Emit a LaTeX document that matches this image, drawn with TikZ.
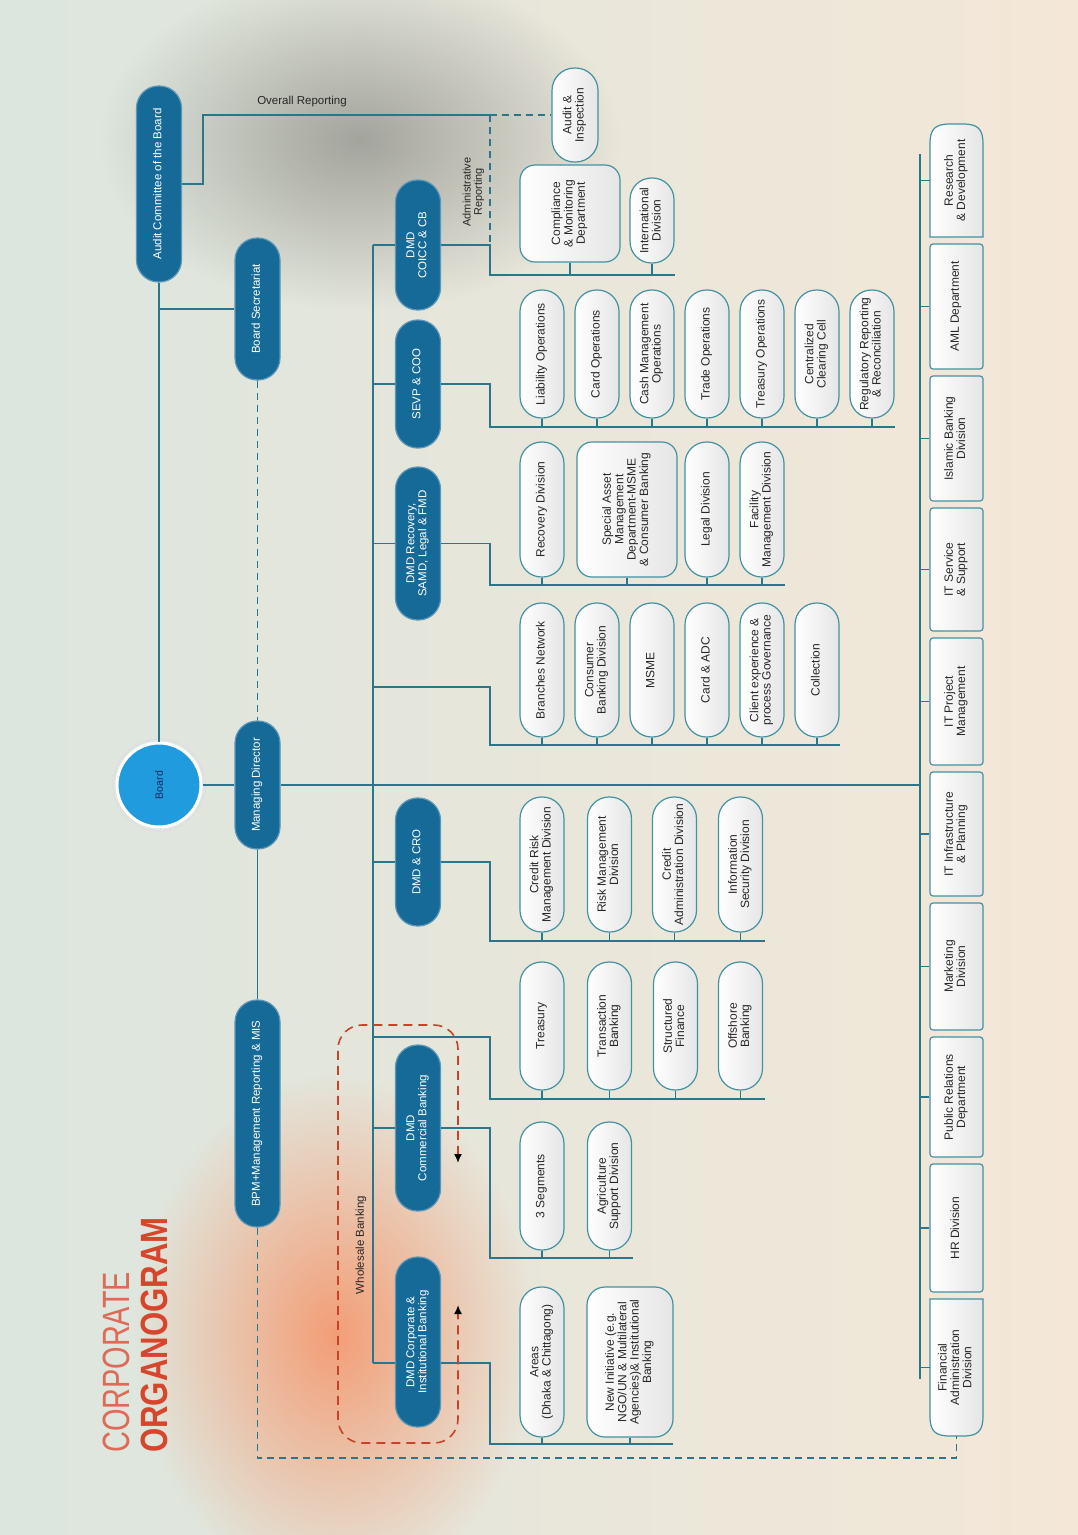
\documentclass[tikz,border=0pt]{standalone}
\usepackage{fontspec}
\setmainfont{Liberation Sans}
\usepackage{graphicx}
\usetikzlibrary{calc,arrows.meta,fadings}
\definecolor{dkblue}{RGB}{22,106,152}
\definecolor{lnc}{RGB}{42,118,138}
\definecolor{bxd}{RGB}{66,146,162}
\definecolor{bgL}{RGB}{220,230,222}
\definecolor{bgR}{RGB}{244,231,215}
\definecolor{ttl}{RGB}{214,70,45}
\definecolor{redd}{RGB}{200,65,40}
\definecolor{boardc}{RGB}{32,156,222}
\definecolor{navy}{RGB}{20,40,90}
\definecolor{txt}{RGB}{40,40,40}
\definecolor{blobg}{RGB}{110,110,105}
\definecolor{blobo}{RGB}{246,145,100}
\tikzfading[name=blobfade, inner color=transparent!0, outer color=transparent!100]
\newcommand{\rtx}[1]{\rotatebox{90}{\begin{tabular}{@{}c@{}}#1\end{tabular}}}
\renewcommand{\arraystretch}{0.95}
\tikzset{
  conn/.style={draw=lnc, line width=1.3pt},
  dconn/.style={conn, dash pattern=on 7pt off 5pt},
  dpill/.style={fill=dkblue, draw=dkblue!70!white, line width=1.2pt, text=white, inner sep=0pt,
     minimum width=45, rounded corners=22pt, font=\fontsize{11.5}{12.5}\selectfont},
  lbase/.style={draw=bxd, line width=1.2pt, left color=white, right color=black!10, inner sep=0pt,
     text=txt, font=\fontsize{12}{13}\selectfont},
  lpill/.style={lbase, minimum width=44, rounded corners=21.5pt},
  lrr/.style={lbase, rounded corners=15pt},
  sbox/.style={lbase, minimum width=53, rounded corners=3pt},
  lbl/.style={inner sep=0pt, text=txt, font=\fontsize{11.5}{13}\selectfont},
}
\begin{document}
\begin{tikzpicture}[x=1pt,y=-1pt]
\useasboundingbox (0,0) rectangle (1078,1535);
\shade[left color=bgL, right color=bgR] (0,0) rectangle (1078,1535);
\fill[blobg, opacity=0.55, path fading=blobfade] (360,140) ellipse (260 and 170);
\fill[blobo, opacity=0.85, path fading=blobfade] (335,1335) ellipse (200 and 260);

% ---- title
\node[inner sep=0pt, anchor=south east, text=ttl!80, font=\fontsize{38}{40}\selectfont] (tcorp) at (130,1453) {\rotatebox{90}{\scalebox{0.76}[1]{CORPORATE}}};
\node[inner sep=0pt, anchor=south east, text=ttl, font=\fontsize{38}{40}\selectfont\bfseries] (torg) at (168,1453) {\rotatebox{90}{\scalebox{0.82}[1]{ORGANOGRAM}}};

% ---- left column
\node[dpill, minimum height=196] (aud) at (159,184) {\rtx{Audit Committee of the Board}};
\node[dpill, minimum height=142] (sec) at (257.5,309) {\rtx{Board Secretariat}};
\node[dpill, minimum height=128] (md) at (257.5,785) {\rtx{Managing Director}};
\node[dpill, minimum height=227] (bpm) at (257.5,1113.5) {\rtx{BPM+Management Reporting \& MIS}};
\draw[black!12, line width=2pt] (159,785) circle (46);
\node[circle, fill=boardc, draw=white, line width=3pt, minimum size=84, inner sep=0pt, text=navy,
      font=\fontsize{10.5}{12}\selectfont] (board) at (159,785) {\rotatebox{90}{Board}};

% ---- DMD column
\node[dpill, minimum height=130] (coicc) at (418,245) {\rtx{DMD\\COICC \& CB}};
\node[dpill, minimum height=128] (sevp) at (418,384) {\rtx{SEVP \& COO}};
\node[dpill, minimum height=153] (rec) at (418,543.5) {\rtx{DMD Recovery,\\SAMD, Legal \& FMD}};
\node[dpill, minimum height=128] (cro) at (418,862) {\rtx{DMD \& CRO}};
\node[dpill, minimum height=166] (com) at (418,1128) {\rtx{DMD\\Commercial Banking}};
\node[dpill, minimum height=170] (cor) at (418,1342) {\rtx{DMD Corporate \&\\Institutional Banking}};

% ---- group 1
\node[lrr, minimum width=100, minimum height=97] (comp) at (570,213.5) {\rtx{Compliance\\\& Monitoring\\Department}};
\node[lpill, minimum height=85] (intl) at (652,220.5) {\rtx{International\\Division}};
\node[lpill, minimum width=46, rounded corners=22.5pt, minimum height=94] (audi) at (575,115) {\rtx{Audit \&\\Inspection}};

% ---- group 2
\node[lpill, minimum height=128] (lia) at (542,354) {\rtx{Liability Operations}};
\node[lpill, minimum height=128] (cardop) at (597,354) {\rtx{Card Operations}};
\node[lpill, minimum height=128] (cash) at (652,354) {\rtx{Cash Management\\Operations}};
\node[lpill, minimum height=128] (trade) at (707,354) {\rtx{Trade Operations}};
\node[lpill, minimum height=128] (treop) at (762,354) {\rtx{Treasury Operations}};
\node[lpill, minimum height=128] (ccc) at (817,354) {\rtx{Centralized\\Clearing Cell}};
\node[lpill, minimum height=128] (reg) at (872,354) {\rtx{Regulatory Reporting\\\& Reconciliation}};

% ---- group 3
\node[lpill, minimum height=135] (recd) at (542,509.5) {\rtx{Recovery Division}};
\node[lrr, minimum width=100, minimum height=135] (sam) at (627,509.5) {\rtx{Special Asset\\Management\\Department-MSME\\\& Consumer Banking}};
\node[lpill, minimum height=135] (legal) at (707,509.5) {\rtx{Legal Division}};
\node[lpill, minimum height=135] (fac) at (762,509.5) {\rtx{Facility\\Management Division}};

% ---- group 4
\node[lpill, minimum height=134] (bn) at (542,670) {\rtx{Branches Network}};
\node[lpill, minimum height=134] (cbd) at (597,670) {\rtx{Consumer\\Banking Division}};
\node[lpill, minimum height=134] (msme) at (652,670) {\rtx{MSME}};
\node[lpill, minimum height=134] (cadc) at (707,670) {\rtx{Card \& ADC}};
\node[lpill, minimum height=134] (cx) at (762,670) {\rtx{Client experience \&\\process Governance}};
\node[lpill, minimum height=134] (coll) at (817,670) {\rtx{Collection}};

% ---- group 5
\node[lpill, minimum height=135] (crm) at (542,864.5) {\rtx{Credit Risk\\Management Division}};
\node[lpill, minimum height=135] (rmd) at (609.5,864.5) {\rtx{Risk Management\\Division}};
\node[lpill, minimum height=135] (cad) at (674.5,864.5) {\rtx{Credit\\Administration Division}};
\node[lpill, minimum height=135] (isd) at (740.5,864.5) {\rtx{Information\\Security Division}};

% ---- group 6
\node[lpill, minimum height=128] (trs) at (542,1026) {\rtx{Treasury}};
\node[lpill, minimum height=128] (txb) at (609.5,1026) {\rtx{Transaction\\Banking}};
\node[lpill, minimum height=128] (sf) at (675.5,1026) {\rtx{Structured\\Finance}};
\node[lpill, minimum height=128] (ofb) at (740.5,1026) {\rtx{Offshore\\Banking}};

% ---- group 7
\node[lpill, minimum height=128] (seg) at (542,1186) {\rtx{3 Segments}};
\node[lpill, minimum height=128] (agr) at (609.5,1186) {\rtx{Agriculture\\Support Division}};

% ---- group 8
\node[lpill, minimum height=150] (areas) at (542,1362) {\rtx{Areas\\(Dhaka \& Chittagong)}};
\node[lrr, minimum width=86, rounded corners=18pt, minimum height=150] (newi) at (630,1362) {\rtx{New Initiative (e.g.\\NGO/UN \& Multilateral\\Agencies)\& Institutional\\Banking}};

% ---- support column
\node[inner sep=0pt, outer sep=0pt, minimum width=53, minimum height=113] (rd) at (956.5,180.5) {};
\shade[draw=bxd, line width=1.2pt, left color=white, right color=black!10]
  (rd.south west) -- ($(rd.north west)+(0,20)$) .. controls ($(rd.north west)+(0,5)$) and ($(rd.north west)+(5,0)$) .. ($(rd.north west)+(20,0)$)
  -- ($(rd.north east)+(-20,0)$) .. controls ($(rd.north east)+(-5,0)$) and ($(rd.north east)+(0,5)$) .. ($(rd.north east)+(0,20)$)
  -- (rd.south east) -- cycle;
\node[lbl, font=\fontsize{12}{13}\selectfont] (rdt) at (rd.center) {\rtx{Research\\\& Development}};
\node[sbox, minimum height=125] (aml) at (956.5,306.5) {\rtx{AML Department}};
\node[sbox, minimum height=125] (isl) at (956.5,438.5) {\rtx{Islamic Banking\\Division}};
\node[sbox, minimum height=123] (its) at (956.5,569.5) {\rtx{IT Service\\\& Support}};
\node[sbox, minimum height=127] (itpm) at (956.5,701.5) {\rtx{IT Project\\Management}};
\node[sbox, minimum height=124] (iti) at (956.5,834) {\rtx{IT Infrastructure\\\& Planning}};
\node[sbox, minimum height=127] (mkt) at (956.5,966.5) {\rtx{Marketing\\Division}};
\node[sbox, minimum height=120] (pr) at (956.5,1097) {\rtx{Public Relations\\Department}};
\node[sbox, minimum height=128] (hr) at (956.5,1228) {\rtx{HR Division}};
\node[inner sep=0pt, outer sep=0pt, minimum width=53, minimum height=137] (fad) at (956.5,1367.5) {};
\shade[draw=bxd, line width=1.2pt, left color=white, right color=black!10]
  (fad.north west) -- (fad.north east) -- ($(fad.south east)+(0,-20)$) .. controls ($(fad.south east)+(0,-5)$) and ($(fad.south east)+(-5,0)$) .. ($(fad.south east)+(-20,0)$)
  -- ($(fad.south west)+(20,0)$) .. controls ($(fad.south west)+(5,0)$) and ($(fad.south west)+(0,-5)$) .. ($(fad.south west)+(0,-20)$) -- cycle;
\node[lbl, font=\fontsize{12}{13}\selectfont] (fadt) at (fad.center) {\rtx{Financial\\Administration\\Division}};

% ---- coordinates
\coordinate (vt) at (373,245);
\coordinate (vb) at (373,1363);
\coordinate (sv) at (920,154);
\coordinate (svb) at (920,1379);
\coordinate (orA) at (203,115);
\coordinate (orB) at (490,115);
\coordinate (g1a) at (490,275);  \coordinate (g1b) at (675,275);
\coordinate (g2a) at (490,427);  \coordinate (g2b) at (895,427);
\coordinate (g3a) at (490,585);  \coordinate (g3b) at (785,585);
\coordinate (b4) at (373,687);
\coordinate (g4a) at (490,745);  \coordinate (g4b) at (840,745);
\coordinate (g5a) at (490,941);  \coordinate (g5b) at (765,941);
\coordinate (b6) at (373,1037);
\coordinate (g6a) at (490,1099); \coordinate (g6b) at (765,1099);
\coordinate (g7a) at (490,1258); \coordinate (g7b) at (633,1258);
\coordinate (g8a) at (490,1444); \coordinate (g8b) at (673,1444);
\coordinate (dl) at (0,1458);

% ---- top connectors
\draw[conn] (aud.south) -- (board.north);
\draw[conn] (sec.west) -- (sec.west -| aud.south);
\draw[dconn] (sec.south) -- (md.north);
\draw[conn] (board.east) -- (md.west);
\draw[conn] (md.east) -- (md.east -| sv);
\draw[conn] (md.south) -- (bpm.north);
\draw[dconn] (bpm.south) -- (bpm.south |- dl) -- (fad.south |- dl) -- (fad.south);
\draw[conn] (aud.east) -| (orA) -- (orB);
\draw[dconn] (orB) -- (audi.west);
\draw[dconn] (orB) -- (orB |- coicc.east);
\node[lbl] (ovr) at (302,102) {Overall Reporting};
\node[lbl, font=\fontsize{11}{12}\selectfont] (adm) at (474,192) {\rtx{Administrative\\Reporting}};

% ---- DMD spine
\draw[conn] (vt) -- (vb);
\foreach \n in {coicc,sevp,rec,cro,com} \draw[conn] (\n.west) -- (\n.west -| vt);
\draw[conn] (vb) -- (vb -| cor.west);

% ---- groups
\draw[conn] (coicc.east) -- (coicc.east -| g1a) -- (g1a) -- (g1b);
\foreach \n in {comp,intl} \draw[conn] (\n.south) -- (\n.south |- g1a);
\draw[conn] (sevp.east) -- (sevp.east -| g2a) -- (g2a) -- (g2b);
\foreach \n in {lia,cardop,cash,trade,treop,ccc,reg} \draw[conn] (\n.south) -- (\n.south |- g2a);
\draw[conn] (rec.east) -- (rec.east -| g3a) -- (g3a) -- (g3b);
\foreach \n in {recd,sam,legal,fac} \draw[conn] (\n.south) -- (\n.south |- g3a);
\draw[conn] (b4) -- (b4 -| g4a) -- (g4a) -- (g4b);
\foreach \n in {bn,cbd,msme,cadc,cx,coll} \draw[conn] (\n.south) -- (\n.south |- g4a);
\draw[conn] (cro.east) -- (cro.east -| g5a) -- (g5a) -- (g5b);
\foreach \n in {crm,rmd,cad,isd} \draw[conn] (\n.south) -- (\n.south |- g5a);
\draw[conn] (b6) -- (b6 -| g6a) -- (g6a) -- (g6b);
\foreach \n in {trs,txb,sf,ofb} \draw[conn] (\n.south) -- (\n.south |- g6a);
\draw[conn] (com.east) -- (com.east -| g7a) -- (g7a) -- (g7b);
\foreach \n in {seg,agr} \draw[conn] (\n.south) -- (\n.south |- g7a);
\draw[conn] (vb -| cor.east) -- (vb -| g8a) -- (g8a) -- (g8b);
\foreach \n in {areas,newi} \draw[conn] (\n.south) -- (\n.south |- g8a);

% ---- support spine
\draw[conn] (sv) -- (svb);
\foreach \n in {rd,aml,isl,its,itpm,iti,mkt,pr,hr,fad} \draw[conn] (\n.west) -- (\n.west -| sv);

% ---- wholesale banking loop
\coordinate (wa) at (458,1163);
\coordinate (wb1) at (458,1025);
\coordinate (wb2) at (338,1025);
\coordinate (wb3) at (338,1443);
\coordinate (wb4) at (458,1443);
\coordinate (we) at (458,1305);
\draw[redd, line width=1.6pt, dash pattern=on 9pt off 6pt, rounded corners=24pt,
      {Latex[length=9pt,width=8pt,color=black]}-{Latex[length=9pt,width=8pt,color=black]}]
  (wa) -- (wb1) -- (wb2) -- (wb3) -- (wb4) -- (we);
\node[lbl] (wbl) at (361,1245) {\rotatebox{90}{Wholesale Banking}};
\end{tikzpicture}
\end{document}
